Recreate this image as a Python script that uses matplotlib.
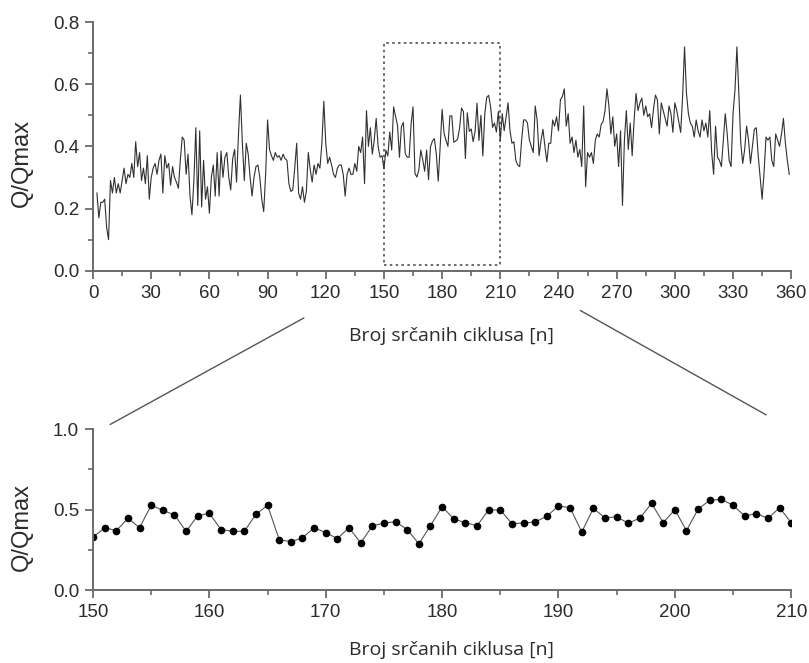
import matplotlib
matplotlib.use("Agg")
import matplotlib.pyplot as plt
from matplotlib.ticker import MultipleLocator
from matplotlib.patches import Rectangle, ConnectionPatch

plt.rcParams["font.family"] = ["Liberation Sans", "DejaVu Sans"]

# Normalised stroke volume per heart cycle, cycles 2..359
cycles_full = list(range(2, 360))
q_full = [
    0.25, 0.17, 0.22, 0.22, 0.23, 0.14, 0.10, 0.29, 0.25,                     # 2-10
    0.30, 0.25, 0.28, 0.25, 0.29, 0.33, 0.28, 0.31, 0.30, 0.345,              # 11-20
    0.30, 0.415, 0.335, 0.38, 0.29, 0.33, 0.28, 0.37, 0.23, 0.30,             # 21-30
    0.33, 0.345, 0.31, 0.355, 0.375, 0.25, 0.37, 0.33, 0.345, 0.275,          # 31-40
    0.335, 0.30, 0.285, 0.265, 0.355, 0.43, 0.42, 0.31, 0.375, 0.24,          # 41-50
    0.18, 0.29, 0.46, 0.21, 0.45, 0.205, 0.355, 0.23, 0.27, 0.185,            # 51-60
    0.30, 0.34, 0.24, 0.38, 0.24, 0.385, 0.30, 0.365, 0.38, 0.30,             # 61-70
    0.26, 0.36, 0.39, 0.285, 0.44, 0.565, 0.41, 0.29, 0.41, 0.375,            # 71-80
    0.30, 0.24, 0.30, 0.335, 0.34, 0.30, 0.23, 0.19, 0.31, 0.485,             # 81-90
    0.39, 0.37, 0.355, 0.38, 0.365, 0.37, 0.355, 0.375, 0.36, 0.355,          # 91-100
    0.28, 0.255, 0.26, 0.33, 0.41, 0.25, 0.23, 0.27, 0.22, 0.255,             # 101-110
    0.38, 0.325, 0.285, 0.34, 0.31, 0.345, 0.33, 0.41, 0.545, 0.41,           # 111-120
    0.345, 0.365, 0.34, 0.31, 0.30, 0.33, 0.34, 0.34, 0.31, 0.24,             # 121-130
    0.31, 0.33, 0.31, 0.31, 0.345, 0.32, 0.40, 0.38, 0.43, 0.28,              # 131-140
    0.515, 0.40, 0.46, 0.375, 0.42, 0.49, 0.40, 0.365, 0.37, 0.328,           # 141-150
    0.388, 0.369, 0.446, 0.388, 0.527, 0.496, 0.467, 0.365, 0.463, 0.477,     # 151-160
    0.376, 0.365, 0.365, 0.471, 0.527, 0.313, 0.301, 0.324, 0.388, 0.357,     # 161-170
    0.320, 0.388, 0.293, 0.398, 0.417, 0.425, 0.376, 0.288, 0.400, 0.519,     # 171-180
    0.442, 0.419, 0.400, 0.498, 0.498, 0.413, 0.417, 0.423, 0.459, 0.523,     # 181-190
    0.512, 0.361, 0.508, 0.448, 0.456, 0.415, 0.448, 0.539, 0.419, 0.500,     # 191-200
    0.369, 0.504, 0.558, 0.564, 0.527, 0.461, 0.475, 0.446, 0.512, 0.419,     # 201-210
    0.505, 0.45, 0.495, 0.54, 0.45, 0.41, 0.415, 0.355, 0.34, 0.335,          # 211-220
    0.42, 0.485, 0.485, 0.475, 0.42, 0.40, 0.38, 0.53, 0.485, 0.37,           # 221-230
    0.42, 0.455, 0.40, 0.35, 0.41, 0.41, 0.485, 0.465, 0.495, 0.45,           # 231-240
    0.55, 0.56, 0.585, 0.465, 0.505, 0.41, 0.43, 0.38, 0.42, 0.365,           # 241-250
    0.39, 0.335, 0.53, 0.27, 0.38, 0.365, 0.38, 0.345, 0.42, 0.44,            # 251-260
    0.43, 0.47, 0.48, 0.515, 0.585, 0.53, 0.44, 0.495, 0.40, 0.44,            # 261-270
    0.335, 0.45, 0.21, 0.42, 0.515, 0.39, 0.475, 0.37, 0.485, 0.57,           # 271-280
    0.515, 0.54, 0.555, 0.50, 0.53, 0.495, 0.505, 0.46, 0.52, 0.565,          # 281-290
    0.55, 0.44, 0.54, 0.515, 0.49, 0.465, 0.53, 0.505, 0.445, 0.54,           # 291-300
    0.515, 0.48, 0.445, 0.56, 0.72, 0.57, 0.505, 0.475, 0.465, 0.43,          # 301-310
    0.485, 0.45, 0.43, 0.485, 0.45, 0.475, 0.43, 0.515, 0.38, 0.31,           # 311-320
    0.465, 0.365, 0.355, 0.335, 0.42, 0.505, 0.44, 0.355, 0.335, 0.505,       # 321-330
    0.58, 0.72, 0.57, 0.41, 0.345, 0.39, 0.465, 0.42, 0.345, 0.40,            # 331-340
    0.455, 0.46, 0.37, 0.30, 0.23, 0.315, 0.43, 0.42, 0.43, 0.355,            # 341-350
    0.335, 0.44, 0.42, 0.40, 0.44, 0.49, 0.41, 0.355, 0.31,                   # 351-359
]

# Zoomed window: cycles 150..210
cycles_zoom = list(range(150, 211))
q_zoom = q_full[cycles_full.index(150):cycles_full.index(210) + 1]

zoom_start, zoom_end = 150, 210
box_low, box_high = 0.018, 0.732

x_label = "Broj srčanih ciklusa [n]"
y_label = "Q/Qmax"

axis_grey = "#6a6a6a"
text_grey = "#2b2b2b"

fig = plt.figure(figsize=(8.09, 6.63), dpi=100)
ax_top = fig.add_axes([0.115, 0.5917, 0.863, 0.3751])
ax_bot = fig.add_axes([0.115, 0.1101, 0.863, 0.2424])


def style_axis(ax):
    for side in ("top", "right"):
        ax.spines[side].set_visible(False)
    for side in ("left", "bottom"):
        ax.spines[side].set_color(axis_grey)
        ax.spines[side].set_linewidth(1.4)
    ax.tick_params(which="major", direction="out", length=6, width=1.3,
                   color=axis_grey, labelsize=13.5, labelcolor=text_grey,
                   pad=4)
    ax.tick_params(which="minor", direction="out", length=3.5, width=1.2,
                   color=axis_grey)


# Full recording
ax_top.plot(cycles_full, q_full, color="#303030", lw=0.8)
ax_top.set_xlim(0, 360)
ax_top.set_ylim(0, 0.8)
ax_top.xaxis.set_major_locator(MultipleLocator(30))
ax_top.xaxis.set_minor_locator(MultipleLocator(15))
ax_top.set_yticks([0, 0.2, 0.4, 0.6, 0.8])
ax_top.set_yticklabels(["0.0", "0.2", "0.4", "0.6", "0.8"])
ax_top.yaxis.set_minor_locator(MultipleLocator(0.1))
style_axis(ax_top)
ax_top.add_patch(Rectangle((zoom_start, box_low), zoom_end - zoom_start,
                           box_high - box_low, fill=False, ec="#505050",
                           lw=1.2, ls=(0, (1.5, 2.0))))

# Zoomed window
ax_bot.plot(cycles_zoom, q_zoom, color="#555555", lw=0.8, marker="o",
            ms=4.5, mfc="black", mec="black")
ax_bot.set_xlim(zoom_start, zoom_end)
ax_bot.set_ylim(0, 1.0)
ax_bot.xaxis.set_major_locator(MultipleLocator(10))
ax_bot.xaxis.set_minor_locator(MultipleLocator(5))
ax_bot.set_yticks([0, 0.5, 1.0])
ax_bot.set_yticklabels(["0.0", "0.5", "1.0"])
ax_bot.yaxis.set_minor_locator(MultipleLocator(0.25))
style_axis(ax_bot)

for ax, xl_y, yl_y in ((ax_top, -0.225, 0.435), (ax_bot, -0.318, 0.392)):
    ax.set_xlabel(x_label, family="Open Sans", fontsize=14, color=text_grey)
    ax.xaxis.set_label_coords(0.514, xl_y)
    ax.xaxis.label.set_va("top")
    ax.set_ylabel(y_label, fontsize=17, color=text_grey)
    ax.yaxis.set_label_coords(-0.086, yl_y)

# Connector lines from the overview to the zoomed panel
for (xa, ya), (xb, yb) in (((0.302, -0.19), (0.0245, 1.03)),
                           ((0.698, -0.16), (0.964, 1.09))):
    con = ConnectionPatch(xyA=(xa, ya), coordsA=ax_top.transAxes,
                          xyB=(xb, yb), coordsB=ax_bot.transAxes,
                          color="#555555", lw=1.0)
    fig.add_artist(con)

fig.savefig("out.png", dpi=100, facecolor="white")
